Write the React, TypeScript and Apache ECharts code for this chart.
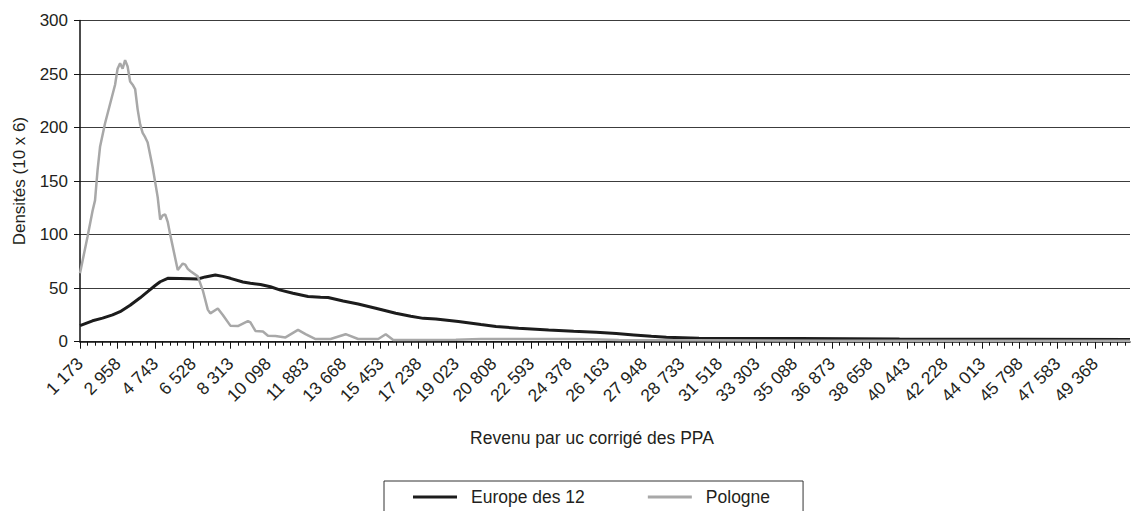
import React, { useEffect, useRef } from "react";
import * as echarts from "echarts";

// ---- data ----
const tickLabels: string[] = [
  "1 173", "2 958", "4 743", "6 528", "8 313", "10 098", "11 883", "13 668",
  "15 453", "17 238", "19 023", "20 808", "22 593", "24 378", "26 163", "27 948",
  "28 733", "31 518", "33 303", "35 088", "36 873", "38 658", "40 443", "42 228",
  "44 013", "45 798", "47 583", "49 368",
];
const binStart = 1173;
const binWidth = 119;
const binCount = 420;
const labelEvery = 15;
const tickEvery = 3;

const seriesNames = ["Europe des 12", "Pologne"];

// [bin index, density]
const europe12: [number, number][] = [
  [0, 15], [5, 19.5], [9, 22], [13, 25], [16, 28], [20, 34], [24, 41], [27, 46.7],
  [30, 52.5], [32, 56], [35, 59.2], [40, 59], [44, 58.8], [47, 58.6], [50, 60.5],
  [54, 62.3], [57, 61], [60, 59.2], [65, 55.8], [68, 54.5], [72, 53.5], [76, 51.3],
  [80, 48.2], [85, 45.3], [91, 42.2], [96, 41.6], [99, 41.3], [105, 38], [111, 35.2],
  [118, 31.3], [126, 26.5], [132, 23.8], [137, 21.8], [142, 21.2], [151, 18.8],
  [160, 16], [166, 14.2], [175, 12.6], [187, 11], [197, 9.8], [206, 8.8], [214, 7.6],
  [221, 6.3], [228, 5], [234, 4.1], [247, 3.2], [267, 3], [287, 3], [327, 2.5],
  [367, 2.2], [419, 2],
];

const pologne: [number, number][] = [
  [0, 64], [3, 98], [5, 122], [6, 132], [7, 160], [8, 182], [10, 204], [12, 222],
  [14, 240], [15, 255], [16, 260], [17, 255], [18, 263], [19, 257], [20, 243],
  [21, 240], [22, 236], [23, 217], [24, 203], [25, 195], [26, 191], [27, 186],
  [29, 163], [31, 135], [32, 114], [33, 118], [34, 119], [35, 112], [36, 100],
  [38, 78], [39, 67], [40, 70], [41, 73], [42, 72], [43, 68], [44, 66], [47, 61],
  [49, 48], [51, 30], [52, 26.5], [55, 31], [57, 25], [60, 15], [63, 14.6],
  [67, 19.3], [68, 18], [70, 10], [73, 9.5], [75, 5.5], [78, 5.3], [82, 4],
  [87, 11], [90, 7], [94, 2.5], [100, 2.5], [106, 7], [111, 2.5], [119, 2.5],
  [122, 7], [125, 1.5], [150, 1.8], [160, 2.5], [200, 2.5], [215, 1.5], [300, 1],
  [419, 0.8],
];

const fmt = (n: number) => String(n).replace(/\B(?=(\d{3})+(?!\d))/g, " ");
const categories: string[] = Array.from({ length: binCount }, (_, k) =>
  k % labelEvery === 0 && k / labelEvery < tickLabels.length
    ? tickLabels[k / labelEvery]
    : fmt(binStart + binWidth * k)
);

const FONT = "'Liberation Sans', Arial, Helvetica, sans-serif";
const TEXT = "#231f20";

export default function App() {
  const ref = useRef<HTMLDivElement>(null);
  useEffect(() => {
    if (!ref.current) return;
    const chart = echarts.init(ref.current, undefined, { renderer: "svg" });
    chart.setOption({
      animation: false,
      backgroundColor: "#ffffff",
      textStyle: { fontFamily: FONT, color: TEXT },
      grid: { left: 80, right: 5, top: 20.5, bottom: 169.3, containLabel: false },
      legend: {
        data: seriesNames,
        left: 384,
        top: 481,
        padding: [7, 33, 12, 29],
        itemWidth: 44,
        itemHeight: 3,
        itemGap: 63,
        icon: "rect",
        borderColor: "#333",
        borderWidth: 1,
        textStyle: { fontSize: 17.5, color: TEXT, fontFamily: FONT, padding: [0, 0, 0, 9] },
      },
      xAxis: [
        {
          type: "category",
          data: categories,
          boundaryGap: false,
          position: "bottom",
          name: "Revenu par uc corrigé des PPA",
          nameLocation: "middle",
          nameGap: 87,
          nameTextStyle: { fontSize: 17.5, color: TEXT, fontFamily: FONT, padding: [0, 26, 0, 0] },
          axisLine: { show: true, lineStyle: { color: "#111", width: 1.5 } },
          axisTick: {
            show: true,
            interval: (i: number) => i % tickEvery === 0,
            length: 4,
            lineStyle: { color: "#111", width: 1 },
          },
          axisLabel: {
            interval: (i: number) => i % labelEvery === 0 && i / labelEvery < tickLabels.length,
            rotate: 45,
            fontSize: 17.5,
            margin: 19,
            color: TEXT,
            fontFamily: FONT,
          },
          splitLine: { show: false },
        },
        {
          type: "category",
          data: categories,
          boundaryGap: false,
          position: "bottom",
          axisLine: { show: false },
          axisTick: {
            show: true,
            interval: (i: number) => i % labelEvery === 0,
            length: 7,
            lineStyle: { color: "#111", width: 1 },
          },
          axisLabel: { show: false },
          splitLine: { show: false },
        },
      ],
      yAxis: {
        type: "value",
        min: 0,
        max: 300,
        interval: 50,
        name: "Densités (10 x 6)",
        nameLocation: "middle",
        nameGap: 52,
        nameTextStyle: { fontSize: 17, color: TEXT, fontFamily: FONT },
        axisLine: { show: true, lineStyle: { color: "#111", width: 1.5 } },
        axisTick: { show: true, length: 6, lineStyle: { color: "#111" } },
        axisLabel: { fontSize: 17, margin: 12, color: TEXT, fontFamily: FONT },
        splitLine: { show: true, lineStyle: { color: "#3c3c3c", width: 1 } },
      },
      series: [
        {
          name: seriesNames[0],
          type: "line",
          xAxisIndex: 0,
          data: europe12,
          symbol: "none",
          showSymbol: false,
          color: "#1c1c1c",
          lineStyle: { color: "#1c1c1c", width: 3 },
        },
        {
          name: seriesNames[1],
          type: "line",
          xAxisIndex: 0,
          data: pologne,
          symbol: "none",
          showSymbol: false,
          color: "#a8a8a8",
          lineStyle: { color: "#a8a8a8", width: 2.5 },
        },
      ],
    });
    return () => chart.dispose();
  }, []);
  return (
    <div
      ref={ref}
      style={{ position: "absolute", left: 0, top: 0, width: 1135, height: 511 }}
    />
  );
}
